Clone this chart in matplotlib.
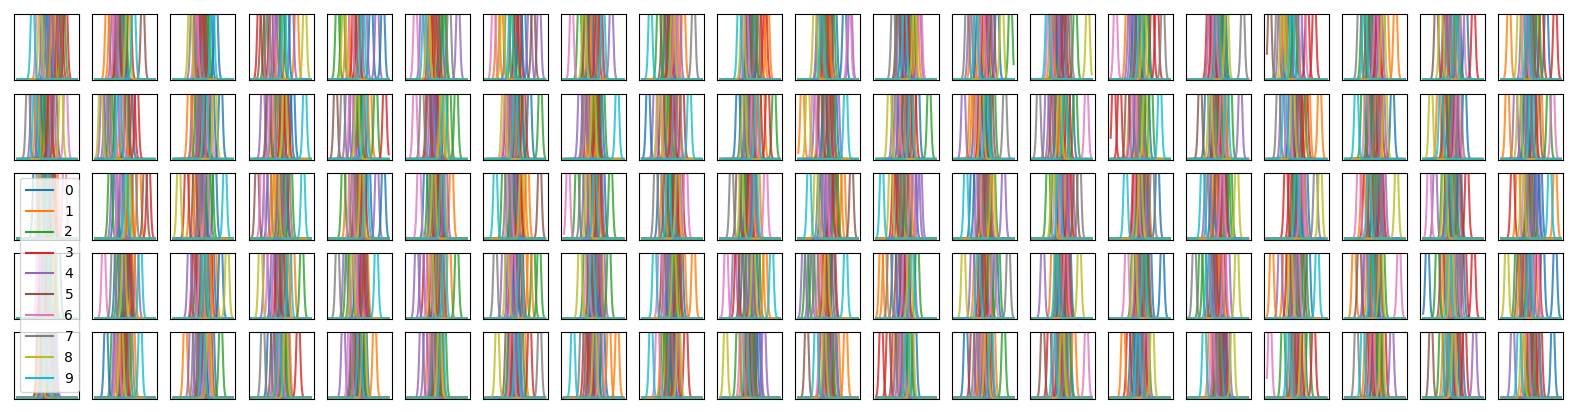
import matplotlib
matplotlib.use("Agg")
import matplotlib.pyplot as plt
from matplotlib.lines import Line2D
import numpy as np

# Peak centres (percent of the x range) for each of the 5x20 panels.
# Entry j belongs to class j % 10, so classes 0-4 carry two peaks.
row1 = [
    [52, 60, 78, 82, 56, 70, 35, 44, 39, 26, 48, 64, 58, 74, 66],
    [45, 20, 50, 38, 30, 80, 34, 42, 55, 65, 48, 26, 40, 58, 36],
    [72, 40, 55, 48, 44, 50, 38, 32, 28, 66, 62, 46, 58, 52, 42],
    [60, 47, 52, 13, 40, 18, 35, 28, 90, 55, 44, 76, 24, 33, 68],
    [90, 30, 13, 42, 60, 47, 36, 52, 24, 56, 70, 40, 22, 48, 80],
    [56, 40, 62, 46, 85, 50, 13, 70, 34, 28, 42, 52, 60, 38, 24],
    [58, 20, 45, 52, 90, 80, 13, 36, 28, 42, 64, 26, 50, 56, 74],
    [46, 50, 26, 56, 80, 38, 13, 60, 34, 66, 52, 42, 36, 62, 44],
    [50, 58, 40, 46, 62, 36, 56, 87, 52, 14, 42, 70, 28, 48, 54],
    [52, 80, 58, 76, 40, 48, 44, 62, 38, 32, 56, 72, 46, 66, 50],
    [78, 50, 42, 46, 88, 54, 86, 36, 28, 40, 62, 44, 58, 50, 34],
    [56, 68, 62, 52, 40, 36, 74, 28, 64, 48, 44, 58, 38, 50, 72],
    [40, 44, 94.5, 50, 60, 64, 48, 21, 80, 36, 72, 30, 54, 58, 26],
    [46, 32, 72, 54, 40, 58, 28, 62, 93.1, 25, 50, 38, 36, 44, 52],
    [40, 52, 60, 78, 36, 46, 8, 88, 56, 50, 62, 28, 44, 70, 32],
    [54, 50, 58, 40, 36, 46, 44, 91, 64, 48, 60, 52, 42, 33, 56],
    [38, 30, 46, 80, 50, 4.7, 62, 18, 26, 42, 56, 48, 34, 68, 22],
    [50, 85, 42, 56, 60, 38, 52, 24, 64, 33, 44, 70, 30, 54, 46],
    [60, 50, 56, 38, 44, 22, 66, 48, 30, 54, 72, 58, 42, 85, 36],
    [56, 13, 62, 91, 46, 52, 40, 48, 30, 44, 76, 60, 50, 68, 36],
]
row2 = [
    [44, 34, 48, 54, 60, 64, 82, 18, 74, 30, 38, 50, 42, 56, 26],
    [36, 48, 26, 70, 18, 54, 44, 22, 9, 40, 60, 30, 52, 64, 12],
    [80, 27, 40, 50, 44, 56, 62, 48, 70, 54, 66, 36, 58, 46, 34],
    [64, 40, 44, 52, 19, 28, 34, 48, 56, 90, 70, 58, 36, 60, 30],
    [56, 62, 50, 93, 38, 10, 36, 22, 46, 60, 44, 68, 78, 52, 30],
    [52, 56, 82, 48, 40, 36, 12, 24, 58, 62, 44, 64, 70, 34, 46],
    [58, 46, 92, 64, 40, 52, 34, 44, 30, 50, 74, 54, 60, 36, 48],
    [62, 46, 52, 56, 27, 40, 38, 36, 50, 90, 58, 44, 66, 54, 34],
    [10, 40, 46, 52, 56, 34, 30, 62, 28, 80, 50, 60, 42, 68, 22],
    [30, 60, 91, 80, 46, 52, 56, 44, 40, 62, 38, 72, 48, 66, 54],
    [44, 6.7, 58, 52, 30, 38, 26, 48, 16, 80, 62, 36, 46, 56, 66],
    [40, 44, 89, 64, 30, 48, 36, 52, 22, 58, 70, 60, 34, 56, 46],
    [50, 32, 56, 44, 15, 62, 40, 85, 46, 54, 36, 28, 66, 48, 58],
    [42, 50, 56, 60, 24, 34, 91, 10, 46, 54, 66, 38, 72, 48, 30],
    [44, 48, 54, 5.0, 36, 28, 40, 52, 58, 83, 62, 34, 68, 15, 50],
    [46, 60, 52, 48, 87, 19, 56, 40, 36, 64, 30, 54, 70, 44, 58],
    [40, 89, 62, 56, 48, 52, 36, 19, 44, 30, 54, 70, 46, 66, 26],
    [48, 54, 40, 60, 64, 44, 36, 52, 68, 19, 80, 56, 30, 50, 42],
    [44, 40, 48, 56, 52, 36, 58, 62, 13, 30, 70, 26, 50, 38, 54],
    [42, 10, 80, 56, 36, 62, 87, 46, 30, 50, 54, 66, 40, 48, 24],
]
row3 = [
    [50, 56, 44, 62, 40, 60, 80, 48, 36, 54, 30, 66, 52, 58, 42],
    [50, 60, 25, 90, 44, 84, 40, 66, 56, 52, 34, 74, 46, 58, 30],
    [52, 40, 60, 22, 44, 36, 56, 48, 9, 87, 70, 30, 64, 50, 46],
    [56, 40, 52, 46, 48, 9, 18, 62, 44, 87, 30, 36, 66, 58, 24],
    [91, 50, 23, 58, 46, 44, 36, 40, 54, 62, 66, 30, 52, 48, 80],
    [56, 60, 36, 50, 64, 46, 19, 40, 44, 58, 30, 74, 52, 54, 42],
    [52, 64, 44, 56, 48, 91, 40, 36, 60, 16, 46, 70, 30, 58, 50],
    [46, 56, 79, 50, 36, 60, 7, 30, 40, 52, 66, 44, 22, 58, 62],
    [48, 36, 52, 56, 62, 40, 74, 23, 60, 44, 30, 58, 46, 66, 54],
    [44, 54, 40, 50, 56, 30, 77, 19, 36, 60, 48, 64, 58, 46, 38],
    [40, 70, 64, 56, 50, 90, 46, 36, 30, 18, 60, 76, 54, 62, 44],
    [38, 56, 44, 30, 74, 50, 60, 46, 24, 9, 64, 40, 52, 34, 70],
    [30, 60, 52, 46, 58, 56, 40, 44, 64, 19, 36, 50, 66, 54, 83],
    [46, 50, 26, 62, 54, 72, 40, 79, 34, 44, 56, 60, 36, 48, 66],
    [58, 62, 48, 40, 54, 60, 44, 70, 50, 25, 79, 52, 46, 42, 56],
    [40, 44, 66, 60, 54, 48, 56, 34, 81, 23, 62, 52, 70, 46, 30],
    [54, 60, 48, 32, 56, 44, 58, 82, 90, 50, 66, 46, 52, 40, 62],
    [48, 42, 54, 62, 66, 44, 23, 56, 87, 40, 58, 30, 50, 34, 60],
    [54, 46, 50, 74, 20, 40, 10, 58, 36, 44, 62, 52, 34, 60, 42],
    [60, 91, 44, 19, 56, 50, 40, 48, 36, 82, 66, 28, 54, 46, 62],
]
row4 = [
    [48, 56, 60, 44, 40, 52, 36, 58, 64, 50, 70, 46, 54, 42, 62],
    [52, 64, 40, 56, 44, 58, 14, 30, 48, 76, 36, 60, 46, 54, 70],
    [80, 60, 50, 36, 27, 40, 46, 56, 91, 52, 66, 70, 44, 62, 34],
    [56, 60, 85, 46, 40, 52, 30, 48, 15, 64, 36, 70, 54, 44, 24],
    [46, 50, 30, 56, 52, 60, 42, 13, 38, 79, 58, 62, 36, 54, 26],
    [48, 56, 83, 42, 15, 58, 36, 52, 40, 62, 54, 70, 46, 30, 24],
    [52, 74, 90, 56, 40, 60, 46, 16, 36, 58, 50, 66, 80, 44, 30],
    [52, 46, 76, 56, 58, 44, 40, 60, 27, 48, 54, 62, 36, 50, 66],
    [48, 87, 52, 60, 44, 62, 30, 40, 54, 21, 66, 70, 56, 36, 46],
    [60, 76, 46, 28, 52, 36, 10, 48, 56, 87, 40, 70, 64, 54, 24],
    [50, 40, 14, 44, 9, 54, 36, 30, 48, 80, 58, 46, 24, 60, 20],
    [44, 8, 69, 52, 40, 36, 48, 22, 56, 60, 30, 14, 50, 46, 62],
    [52, 56, 60, 48, 30, 44, 66, 91, 15, 40, 70, 36, 74, 50, 58],
    [48, 52, 42, 54, 17, 60, 56, 44, 79, 40, 62, 34, 50, 58, 46],
    [87, 52, 58, 46, 44, 62, 27, 50, 40, 56, 66, 48, 38, 60, 54],
    [48, 54, 26, 44, 36, 40, 60, 9, 81, 32, 52, 46, 20, 58, 66],
    [44, 8, 56, 36, 50, 60, 52, 46, 40, 85, 70, 30, 64, 48, 22],
    [52, 40, 46, 58, 36, 24, 91, 56, 60, 44, 50, 15, 64, 48, 34],
    [7, 40, 24, 85, 50, 32, 56, 62, 48, 44, 66, 36, 54, 70, 58],
    [91, 34, 46, 40, 52, 30, 60, 38, 9, 48, 70, 56, 26, 62, 44],
]
row5 = [
    [46, 52, 58, 42, 60, 36, 50, 54, 40, 48, 62, 44, 56, 38, 64],
    [18, 40, 56, 50, 36, 46, 38, 60, 44, 76, 52, 64, 30, 48, 34],
    [52, 58, 80, 48, 40, 44, 56, 36, 60, 50, 66, 20, 46, 62, 30],
    [48, 44, 54, 79, 40, 36, 50, 19, 58, 46, 30, 62, 56, 52, 60],
    [52, 46, 56, 48, 23, 40, 34, 44, 58, 50, 60, 76, 42, 54, 38],
    [46, 52, 48, 56, 23, 50, 40, 44, 54, 58, 42, 36, 62, 48, 30],
    [54, 46, 60, 48, 56, 36, 44, 91, 19, 52, 42, 64, 40, 74, 50],
    [56, 90, 60, 44, 48, 40, 62, 30, 52, 15, 66, 76, 46, 36, 54],
    [52, 34, 40, 56, 60, 46, 26, 48, 62, 15, 44, 58, 36, 74, 50],
    [60, 40, 54, 46, 74, 56, 36, 50, 9, 44, 64, 48, 30, 52, 66],
    [46, 80, 56, 52, 60, 14, 38, 48, 44, 30, 62, 66, 54, 40, 50],
    [46, 50, 56, 8, 36, 30, 44, 40, 60, 52, 65, 34, 48, 20, 58],
    [50, 44, 83, 56, 40, 60, 48, 36, 54, 62, 19, 66, 46, 30, 52],
    [48, 52, 60, 44, 56, 17, 91, 40, 50, 36, 62, 70, 54, 28, 46],
    [44, 21, 50, 56, 48, 40, 60, 52, 70, 46, 36, 54, 62, 30, 58],
    [56, 46, 50, 60, 44, 48, 40, 52, 74, 26, 62, 36, 54, 58, 66],
    [62, 48, 27, 56, 52, 44, 5.1, 40, 60, 36, 50, 54, 70, 79, 46],
    [50, 54, 58, 44, 79, 40, 46, 19, 62, 30, 56, 36, 48, 66, 60],
    [56, 36, 48, 60, 87, 13, 50, 44, 52, 40, 64, 58, 30, 70, 46],
    [87, 40, 52, 56, 19, 48, 44, 60, 36, 30, 62, 54, 46, 66, 50],
]
rows = [row1, row2, row3, row4, row5]
labels = [str(i) for i in range(10)]

width = 0.028  # peak sigma in x units
height = 1.6   # peak height relative to the visible top
x = np.linspace(0, 1, 600)


def peak(mu):
    return height * np.exp(-((x - mu / 100) ** 2) / (2 * width ** 2))


fig, axes = plt.subplots(5, 20, figsize=(15.76, 4.12), dpi=100)
fig.subplots_adjust(left=0.009, right=0.992, top=0.966, bottom=0.032,
                    wspace=0.2, hspace=0.2)

for r, row in enumerate(rows):
    for c, centres in enumerate(row):
        ax = axes[r, c]
        # second peaks first so the class 0-9 lines end up on top
        for j in range(10, len(centres)):
            ax.plot(x, peak(centres[j]), color=f"C{j % 10}", alpha=0.8)
        for k in range(10):
            ax.plot(x, peak(centres[k]), color=f"C{k}", alpha=0.8)
        ax.set_ylim(-0.015, 1)
        ax.set_xticks([])
        ax.set_yticks([])

# legend sits over the first panel of the middle row and spills downwards
handles = [Line2D([], [], color=f"C{k}") for k in range(10)]
fig.legend(handles=handles, labels=labels, loc="upper left",
           bbox_to_anchor=(20 / 1576, 1 - 178 / 412), borderaxespad=0)

fig.savefig("out.png")
